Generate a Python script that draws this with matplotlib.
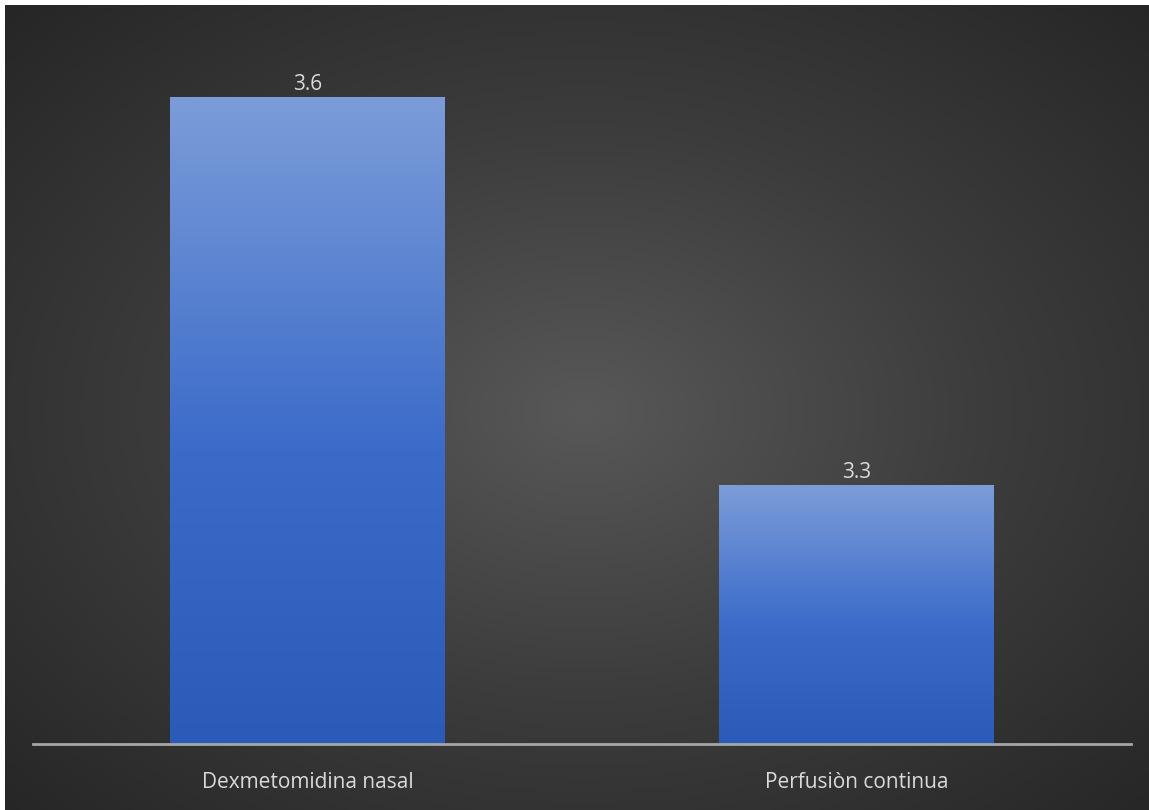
import matplotlib
matplotlib.use("Agg")
import matplotlib.pyplot as plt
import numpy as np
from matplotlib.colors import LinearSegmentedColormap

# ── Data ──────────────────────────────────────────────────────────────────────

categories = ["Dexmetomidina nasal", "Perfusiòn continua"]
values = [3.6, 3.3]
y_min, y_max = 3.1, 3.65

# ── Figure ────────────────────────────────────────────────────────────────────

W, H, DPI = 1149, 810, 100
fig = plt.figure(figsize=(W / DPI, H / DPI), dpi=DPI, facecolor="white")

# radial dark background (leaves a thin white strip top/left)
bg = fig.add_axes([5 / W, -0.01, (W - 5) / W + 0.01, (H - 5) / H + 0.01])
bg.set_axis_off()
yy, xx = np.mgrid[0:400, 0:570]
cx, cy = 570 / 2, 400 / 2
r = np.sqrt(((xx - cx) / cx) ** 2 + ((yy - cy) / cy) ** 2) / np.sqrt(2)
bg_cmap = LinearSegmentedColormap.from_list("bg", ["#585858", "#3c3c3c", "#262626"])
bg.imshow(r, cmap=bg_cmap, vmin=0, vmax=1, aspect="auto", interpolation="bilinear")

# plot area
left, right, bottom = 33, 1131, 744
top = bottom - (y_max - y_min) * 1294
ax = fig.add_axes([left / W, 1 - bottom / H, (right - left) / W, (bottom - top) / H])
ax.set_facecolor("none")

x = np.arange(len(categories))
bars = ax.bar(x, [v - y_min for v in values], bottom=y_min, width=0.5,
              color="none", edgecolor="none")

# vertical gradient fill inside each bar
bar_cmap = LinearSegmentedColormap.from_list(
    "bar", [(0.0, "#2a5bb9"), (0.45, "#3a6bc9"), (1.0, "#7c9cd9")])
grad = np.linspace(0, 1, 256).reshape(-1, 1)
for b in bars:
    x0, y0 = b.get_x(), b.get_y()
    x1, y1 = x0 + b.get_width(), y0 + b.get_height()
    ax.imshow(grad, cmap=bar_cmap, origin="lower", aspect="auto",
              extent=[x0, x1, y0, y1], interpolation="bilinear", zorder=2)

for xi, v in zip(x, values):
    ax.annotate(f"{v:.1f}", (xi, v), xytext=(0, 1.5), textcoords="offset points",
                ha="center", va="bottom", color="#dadada", fontsize=15,
                family="Open Sans")

ax.set_xlim(-0.5, len(categories) - 0.5)
ax.set_ylim(y_min, y_max)
ax.set_xticks(x)
ax.set_xticklabels(categories, color="#dadada", fontsize=15, family="Open Sans")
ax.tick_params(axis="x", length=0, pad=20)
ax.set_yticks([])
for side in ("top", "right", "left"):
    ax.spines[side].set_visible(False)
ax.spines["bottom"].set_color("#a6a6a6")
ax.spines["bottom"].set_linewidth(2)
ax.spines["bottom"].set_zorder(3)

fig.savefig("out.png", dpi=DPI, facecolor="white")
